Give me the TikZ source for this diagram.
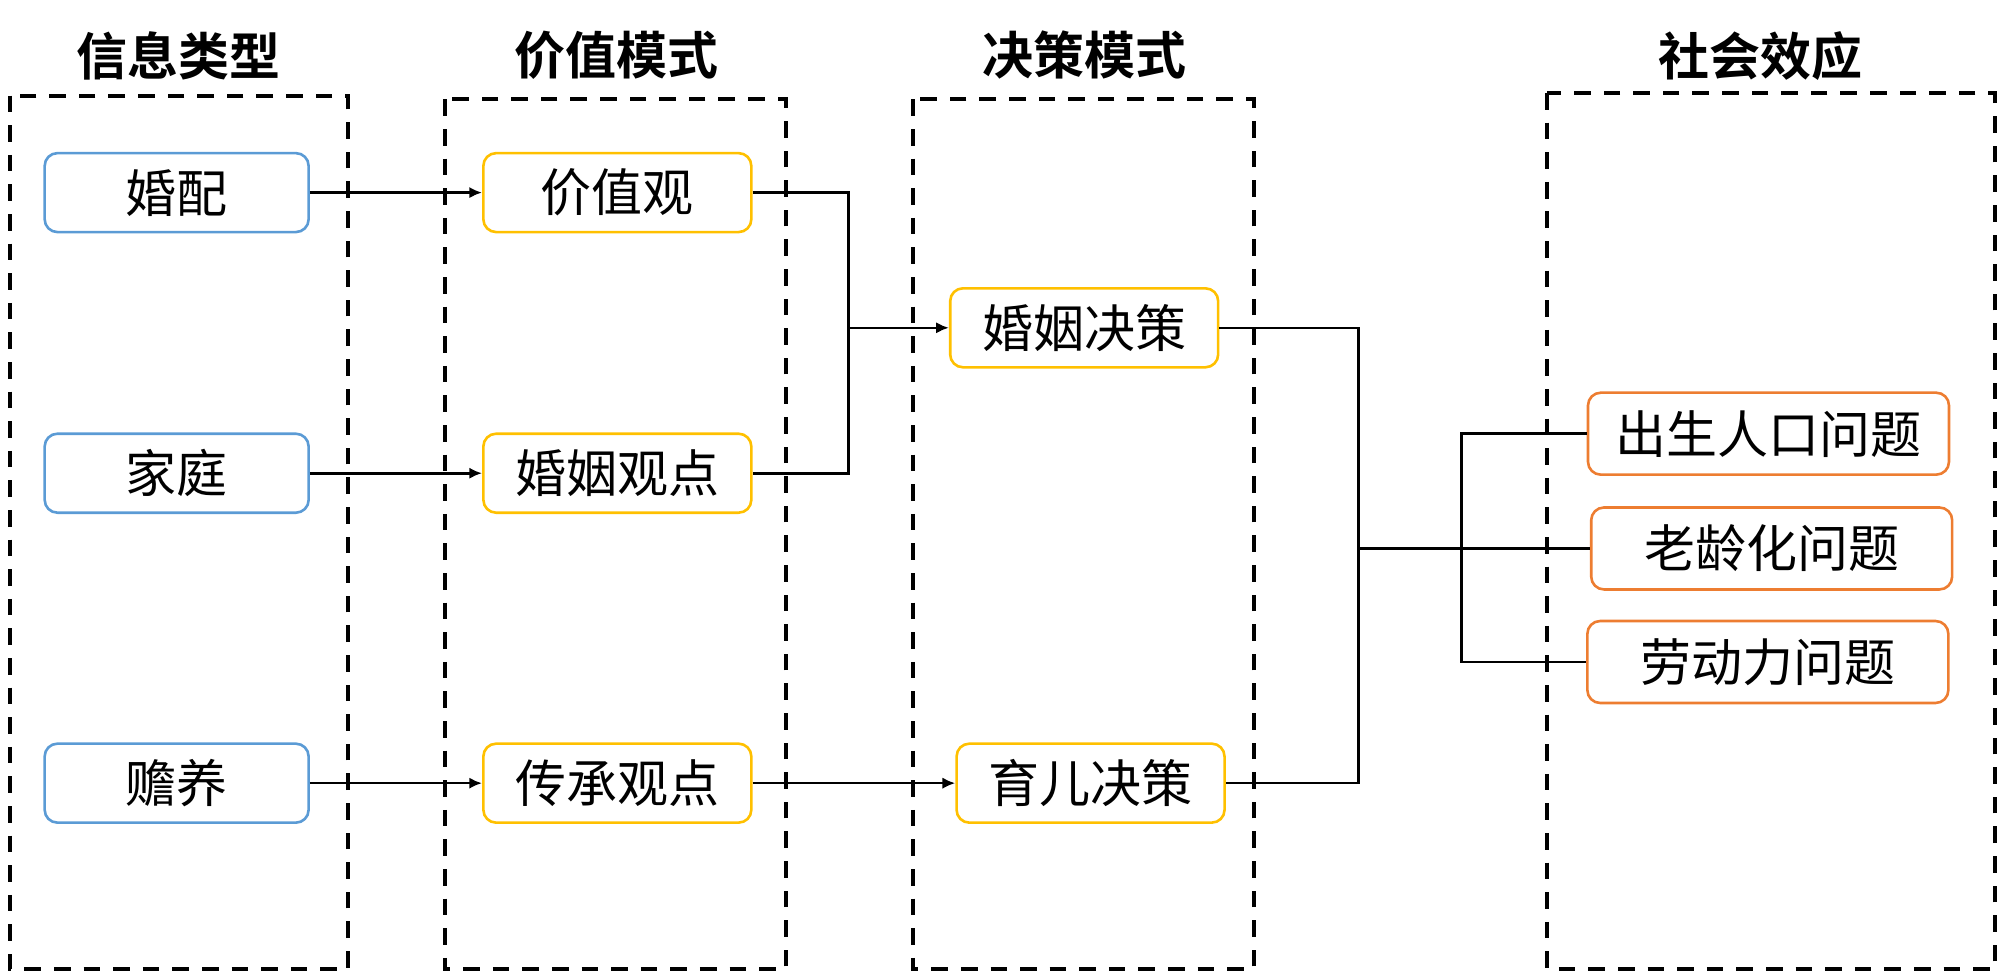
\documentclass[tikz,border=0pt]{standalone}
\usepackage{fontspec}
\setmainfont{Noto Sans CJK SC}[BoldFont={Noto Sans CJK SC Bold}]
\usetikzlibrary{arrows.meta}

\definecolor{infoblue}{RGB}{91,155,213}
\definecolor{valyellow}{RGB}{255,192,0}
\definecolor{efforange}{RGB}{237,125,49}

\begin{document}
\begin{tikzpicture}[x=0.6378pt,y=-0.6378pt,>={Latex[length=6.4pt,width=5.7pt]},line width=1.3pt,
	frame/.style={draw,line width=2pt,dash pattern=on 8.3pt off 6.5pt},
	head/.style={font=\fontsize{25.5}{30}\selectfont\bfseries},
	box/.style={draw=#1,rounded corners=6.4pt,minimum height=39.5pt,inner sep=0pt,font=\fontsize{25.5}{30}\selectfont},
	info/.style={box=infoblue,minimum width=132pt},
	value/.style={box=valyellow,minimum width=134pt},
	effect/.style={box=efforange,minimum width=180.5pt,minimum height=41pt}]

\useasboundingbox (0,0) rectangle (1568,768.3);

% dashed groups
\draw[frame] (8,75)    rectangle (273,760);
\draw[frame] (349,78)  rectangle (616,760);
\draw[frame] (716,78)  rectangle (983,760);
\draw[frame] (1213,73) rectangle (1564,760);

\node[head] (t1) at (140,44)  {信息类型};
\node[head] (t2) at (483,43)  {价值模式};
\node[head] (t3) at (850,43)  {决策模式};
\node[head] (t4) at (1380,44) {社会效应};

% nodes
\node[info]  (hp)   at (138.5,151) {婚配};
\node[info]  (jt)   at (138.5,371) {家庭};
\node[info]  (sy)   at (138.5,614) {赡养};

\node[value] (jzg)  at (484,151) {价值观};
\node[value] (hygd) at (484,371) {婚姻观点};
\node[value] (ccgd) at (484,614) {传承观点};

\node[value] (hyjc) at (850,257) {婚姻决策};
\node[value] (yejc) at (855,614) {育儿决策};

\node[effect] (csrk) at (1386.5,340) {出生人口问题};
\node[effect] (llh)  at (1389,430)   {老龄化问题};
\node[effect] (ldl)  at (1386,519)   {劳动力问题};

\coordinate (j1) at (665,257);
\coordinate (j2) at (1065,430);
\coordinate (j3) at (1146,430);

% connectors
\path[->] (hp)   edge (jzg)
          (jt)   edge (hygd)
          (sy)   edge (ccgd)
          (ccgd) edge (yejc);

\draw (jzg.east) -| (j1) |- (hygd.east);
\draw[->] (j1) -- (hyjc.west);

\draw (hyjc.east) -| (j2) |- (yejc.east);
\draw (j2) -- (llh.west);
\draw (csrk.west) -| (j3) |- (ldl.west);

\end{tikzpicture}
\end{document}
